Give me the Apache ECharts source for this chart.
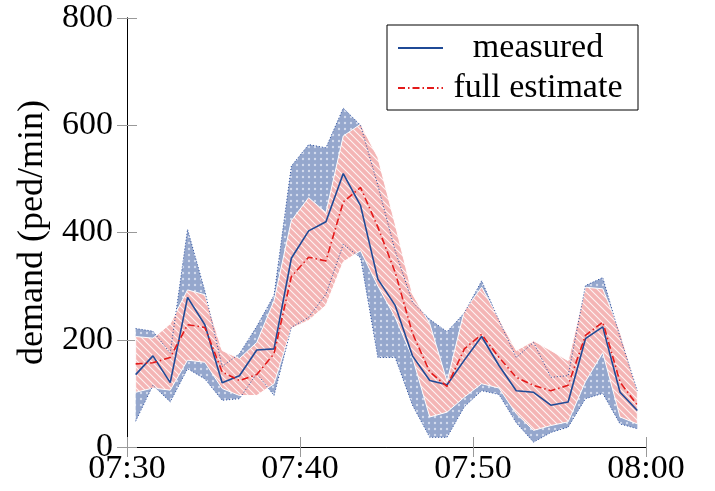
<!DOCTYPE html>
<html>
<head>
<meta charset="utf-8">
<script src="https://cdn.jsdelivr.net/npm/echarts@6/dist/echarts.min.js"></script>
<style>
  html, body { margin: 0; padding: 0; background: #fff; }
  #chart { width: 715px; height: 491px; }
</style>
</head>
<body>
<div id="chart"></div>
<script>
// minutes after 07:30, one sample per minute (centred)
const xMinutes = [0.5, 1.5, 2.5, 3.5, 4.5, 5.5, 6.5, 7.5, 8.5, 9.5,
  10.5, 11.5, 12.5, 13.5, 14.5, 15.5, 16.5, 17.5, 18.5, 19.5,
  20.5, 21.5, 22.5, 23.5, 24.5, 25.5, 26.5, 27.5, 28.5, 29.5]
const xTickLabels = ['07:30', '07:40', '07:50', '08:00']

const measured = [135, 170, 120, 279, 228, 120, 133, 181, 183, 352, 403, 420, 510, 450, 313,
  264, 170, 124, 116, 162, 206, 152, 105, 102, 78, 84, 202, 224, 102, 68]
const estimate = [155, 157, 167, 228, 223, 140, 124, 135, 174, 318, 354, 347, 457, 484, 410,
  326, 212, 140, 113, 183, 210, 167, 130, 115, 105, 115, 208, 233, 121, 78]
// measured range (blue dotted band)
const blueUpper = [221, 216, 175, 406, 291, 150, 174, 225, 283, 524, 564, 558, 632, 600, 488,
  366, 270, 238, 215, 250, 310, 236, 167, 195, 130, 133, 301, 316, 205, 105]
const blueLower = [48, 115, 84, 146, 127, 87, 90, 137, 96, 223, 242, 285, 378, 353, 167,
  167, 78, 18, 18, 75, 105, 98, 45, 9, 27, 37, 90, 100, 43, 34]
// estimate range (red hatched band)
const redUpper = [206, 203, 230, 293, 284, 180, 165, 195, 273, 422, 465, 437, 580, 602, 540,
  416, 285, 230, 122, 254, 298, 239, 180, 198, 180, 161, 298, 295, 215, 105]
const redLower = [102, 110, 106, 162, 158, 109, 96, 96, 118, 221, 236, 264, 345, 366, 300,
  242, 167, 56, 65, 93, 118, 110, 62, 31, 40, 47, 122, 176, 56, 43]

const FONT = 'Liberation Serif'
const FS = 34

// fill patterns
const dotPattern = () => {
  const c = document.createElement('canvas')
  c.width = 6; c.height = 6
  const ctx = c.getContext('2d')
  ctx.fillStyle = '#95a7cd'
  ctx.fillRect(0, 0, 6, 6)
  ctx.fillStyle = '#d2dbed'
  ctx.beginPath()
  ctx.arc(3, 3, 1.2, 0, Math.PI * 2)
  ctx.fill()
  return c
}
const hatchPattern = () => {
  const s = 7
  const c = document.createElement('canvas')
  c.width = s; c.height = s
  const ctx = c.getContext('2d')
  ctx.fillStyle = '#f4b5b5'
  ctx.fillRect(0, 0, s, s)
  ctx.strokeStyle = 'rgba(255,255,255,0.85)'
  ctx.lineWidth = 1.1
  ctx.beginPath()
  ctx.moveTo(-1, -1); ctx.lineTo(s + 1, s + 1)
  ctx.moveTo(-1, s - 1); ctx.lineTo(1, s + 1)
  ctx.moveTo(s - 1, -1); ctx.lineTo(s + 1, 1)
  ctx.stroke()
  return c
}

const pts = arr => arr.map((v, i) => [xMinutes[i], v])

// band between lo and up, drawn as one polygon through the axes' coord()
const bandSeries = (name, lo, up, pattern, edge, z) => ({
  name: name, type: 'custom', z: z, silent: true, clip: true,
  data: [[xMinutes[0], lo[0]]],
  renderItem: (params, api) => {
    const top = up.map((v, i) => api.coord([xMinutes[i], v]))
    const bot = lo.map((v, i) => api.coord([xMinutes[i], v])).reverse()
    return {
      type: 'polygon',
      shape: { points: top.concat(bot) },
      style: {
        fill: { image: pattern, repeat: 'repeat' },
        stroke: edge || 'none',
        lineWidth: edge ? 1 : 0
      }
    }
  }
})

const chart = echarts.init(document.getElementById('chart'), null, { renderer: 'canvas' })

const tickStyle = { inside: true, length: 10, lineStyle: { color: '#999', width: 1 } }

const option = {
  animation: false,
  textStyle: { fontFamily: FONT },
  grid: { left: 127, right: 69, top: 18, bottom: 44 },
  legend: {
    data: ['measured', 'full estimate'],
    orient: 'vertical',
    left: 387, top: 25,
    padding: [6, 10, 5, 10],
    itemWidth: 45, itemHeight: 14, itemGap: 6,
    backgroundColor: '#fff', borderColor: '#000', borderWidth: 1,
    itemStyle: { opacity: 0 },
    formatter: name => '{c|' + name + '}',
    textStyle: {
      fontFamily: FONT, fontSize: FS, color: '#000',
      rich: { c: { width: 180, align: 'center', fontFamily: FONT, fontSize: FS, lineHeight: 37 } }
    }
  },
  xAxis: [
    {
      type: 'value', min: 0, max: 30, interval: 10,
      axisLine: { onZero: false, lineStyle: { color: '#000', width: 1 } },
      axisTick: tickStyle,
      splitLine: { show: false },
      axisLabel: {
        margin: 5, fontFamily: FONT, fontSize: FS, color: '#000',
        formatter: v => xTickLabels[Math.round(v / 10)]
      }
    },
    {
      type: 'value', min: 0, max: 30, interval: 10, position: 'top',
      axisLine: { lineStyle: { color: '#000', width: 1 } },
      axisTick: tickStyle, axisLabel: { show: false }, splitLine: { show: false }
    }
  ],
  yAxis: [
    {
      type: 'value', min: 0, max: 800, interval: 200,
      name: 'demand (ped/min)', nameLocation: 'middle', nameGap: 76,
      nameTextStyle: { fontFamily: FONT, fontSize: 36, color: '#000' },
      axisLine: { show: true, lineStyle: { color: '#000', width: 1 } },
      axisTick: tickStyle,
      splitLine: { show: false },
      axisLabel: { margin: 14, fontFamily: FONT, fontSize: FS, color: '#000' }
    },
    {
      type: 'value', min: 0, max: 800, interval: 200, position: 'right',
      axisLine: { show: true, lineStyle: { color: '#000', width: 1 } },
      axisTick: tickStyle, axisLabel: { show: false }, splitLine: { show: false }
    }
  ],
  series: [
    bandSeries('blueBand', blueLower, blueUpper, dotPattern(), null, 1),
    bandSeries('redBand', redLower, redUpper, hatchPattern(), '#fff', 2),
    {
      name: 'blueUpperEdge', type: 'line', data: pts(blueUpper), symbol: 'none', z: 3, silent: true,
      lineStyle: { color: '#2b4f9e', width: 1, type: [1, 2] }
    },
    {
      name: 'blueLowerEdge', type: 'line', data: pts(blueLower), symbol: 'none', z: 3, silent: true,
      lineStyle: { color: '#2b4f9e', width: 1, type: [1, 2] }
    },
    {
      name: 'measured', type: 'line', data: pts(measured), symbol: 'none', z: 4,
      lineStyle: { color: '#1f4a96', width: 1.6 },
      itemStyle: { color: '#1f4a96' }
    },
    {
      name: 'full estimate', type: 'line', data: pts(estimate), symbol: 'none', z: 5,
      lineStyle: { color: '#e31a1a', width: 1.6, type: [7, 3, 1.5, 3] },
      itemStyle: { color: '#e31a1a' }
    }
  ]
}

chart.setOption(option)
</script>
</body>
</html>
